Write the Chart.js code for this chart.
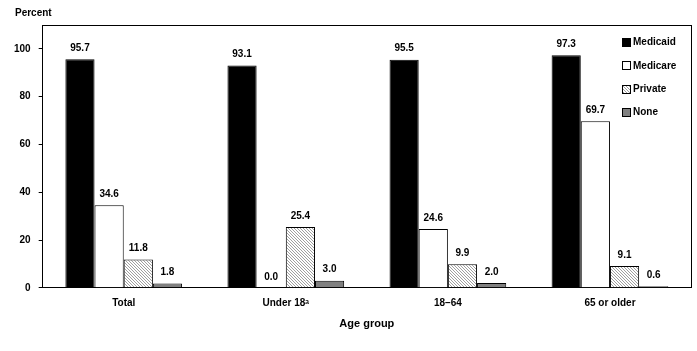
<!DOCTYPE html>
<html lang="en">
<head>
  <meta charset="UTF-8">
  <title>Coverage by age group</title>
  <script src="https://cdn.jsdelivr.net/npm/chart.js"></script>
  <style>
    body { margin: 0; background: #fff; }
    #wrap { position: relative; width: 697px; height: 351px; }
    #box { position: absolute; border-top: 1px solid #000; border-right: 1px solid #000; pointer-events: none; box-sizing: border-box; }
  </style>
</head>
<body>
  <div id="wrap">
    <canvas id="chart" width="697" height="351"></canvas>
    <div id="box"></div>
  </div>
  <script>
    const ageGroups = ['Total', 'Under 18\u1d43', '18\u201364', '65 or older'];
    const medicaid = [95.7, 93.1, 95.5, 97.3];
    const medicare = [34.6, 0.0, 24.6, 69.7];
    const privateIns = [11.8, 25.4, 9.9, 9.1];
    const none = [1.8, 3.0, 2.0, 0.6];
    const yTicks = [0, 20, 40, 60, 80, 100];

    const FONT = 'Liberation Sans, Arial, sans-serif';

    // diagonal hatch for "Private"
    function hatch() {
      const c = document.createElement('canvas');
      c.width = 3; c.height = 3;
      const g = c.getContext('2d');
      g.fillStyle = '#fff';
      g.fillRect(0, 0, 3, 3);
      g.fillStyle = '#a0a0a0';
      for (let i = 0; i < 3; i++) g.fillRect(i, i, 1, 1);
      return g.createPattern(c, 'repeat');
    }
    const privFill = hatch();

    // value labels above bars
    const valueLabels = {
      id: 'valueLabels',
      afterDatasetsDraw(chart) {
        const ctx = chart.ctx;
        ctx.save();
        ctx.font = 'bold 10px ' + FONT;
        ctx.fillStyle = '#000';
        ctx.textAlign = 'center';
        ctx.textBaseline = 'middle';
        chart.data.datasets.forEach((ds, i) => {
          chart.getDatasetMeta(i).data.forEach((bar, j) => {
            ctx.fillText(ds.data[j].toFixed(1), bar.x, bar.y - 11);
          });
        });
        ctx.restore();
      }
    };

    // frame (top + right), legend and "Percent" label
    const extras = {
      id: 'extras',
      afterDraw(chart) {
        const ctx = chart.ctx;
        const a = chart.chartArea;
        ctx.save();
        ctx.strokeStyle = '#000';
        ctx.lineWidth = 1;
        ctx.beginPath();
        ctx.moveTo(Math.round(a.left) - 0.5, Math.round(a.top) + 0.5);
        ctx.lineTo(Math.round(a.right) + 0.5, Math.round(a.top) + 0.5);
        ctx.lineTo(Math.round(a.right) + 0.5, Math.round(a.bottom));
        ctx.stroke();

        // same frame as an overlay element, positioned from the chart area
        const box = document.getElementById('box');
        box.style.left = Math.round(a.left) + 'px';
        box.style.top = Math.round(a.top) + 'px';
        box.style.width = (Math.round(a.right) - Math.round(a.left) + 1) + 'px';
        box.style.height = (Math.round(a.bottom) - Math.round(a.top)) + 'px';

        ctx.font = 'bold 10px ' + FONT;
        ctx.fillStyle = '#000';
        ctx.textBaseline = 'middle';
        ctx.textAlign = 'left';
        ctx.fillText('Percent', 15, 13);

        chart.data.datasets.forEach((ds, i) => {
          const y = 42 + i * 23.3;
          const x = 622;
          ctx.fillStyle = '#000';
          ctx.fillRect(x, Math.round(y) - 4, 9, 9);
          ctx.fillStyle = ds.backgroundColor;
          ctx.fillRect(x + 1, Math.round(y) - 3, 7, 7);
          ctx.fillStyle = '#000';
          ctx.fillText(ds.label, x + 11, y + 0.5);
        });
        ctx.restore();
      }
    };

    const ds = (label, data, fill) => ({
      label, data,
      backgroundColor: fill,
      borderColor: '#000',
      borderWidth: 1,
      categoryPercentage: 0.72,
      barPercentage: 1.0
    });

    new Chart(document.getElementById('chart'), {
      type: 'bar',
      data: {
        labels: ageGroups,
        datasets: [
          ds('Medicaid', medicaid, '#000'),
          ds('Medicare', medicare, '#fff'),
          ds('Private', privateIns, privFill),
          ds('None', none, '#808080')
        ]
      },
      options: {
        responsive: false,
        animation: false,
        layout: { padding: { top: 25, right: 6, left: 6, bottom: 16 } },
        plugins: {
          legend: { display: false },
          tooltip: { enabled: false }
        },
        scales: {
          x: {
            grid: { display: false, drawTicks: false },
            border: { color: '#000', width: 1 },
            ticks: { color: '#000', font: { family: FONT, size: 10, weight: 'bold' }, padding: 9 },
            title: {
              display: true, text: 'Age group', color: '#000',
              font: { family: FONT, size: 11, weight: 'bold' }, padding: { top: 0 }
            }
          },
          y: {
            min: 0, max: 110,
            afterBuildTicks(axis) { axis.ticks = yTicks.map(v => ({ value: v })); },
            grid: { display: true, drawOnChartArea: false, drawTicks: true, tickLength: 4, color: '#000' },
            border: { color: '#000', width: 1 },
            ticks: { color: '#000', font: { family: FONT, size: 10, weight: 'bold' }, padding: 8 }
          }
        }
      },
      plugins: [valueLabels, extras]
    });
  </script>
</body>
</html>
